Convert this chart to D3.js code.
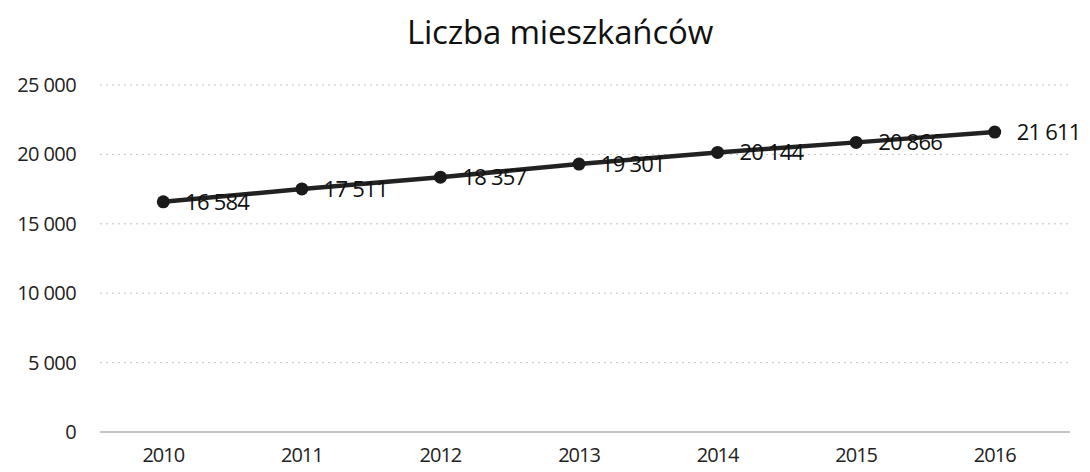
<!DOCTYPE html>
<html>
<head>
<meta charset="utf-8">
<script src="https://cdn.jsdelivr.net/npm/d3@7"></script>
<style>
  body { margin: 0; background: #fff; }
  text { font-family: "Open Sans", sans-serif; }
</style>
</head>
<body>
<div id="canvas"></div>
<script>
var years = ["2010", "2011", "2012", "2013", "2014", "2015", "2016"];
var population = [16584, 17511, 18357, 19301, 20144, 20866, 21611];
var yTicks = [0, 5000, 10000, 15000, 20000, 25000];
var title = "Liczba mieszkańców";

var width = 1090, height = 472;

var svg = d3.select("#canvas").append("svg")
    .attr("width", width)
    .attr("height", height);

var pl = d3.formatLocale({ decimal: ",", thousands: "\u00a0", grouping: [3], currency: ["", " zł"] });
var fmt = pl.format(",d");

var x = d3.scaleBand().domain(years).range([94, 1064]).padding(0);
var y = d3.scaleLinear().domain([0, 25000]).range([432, 85]);

// title
svg.append("text")
    .attr("x", 560)
    .attr("y", 44)
    .attr("text-anchor", "middle")
    .style("font-size", "33px")
    .style("fill", "#111")
    .attr("letter-spacing", "-0.2px")
    .text(title);

// gridlines
svg.append("g").selectAll("line").data(yTicks).enter().append("line")
    .attr("x1", 100)
    .attr("x2", 1070)
    .attr("y1", function (d) { return y(d) })
    .attr("y2", function (d) { return y(d) })
    .style("stroke", function (d) { return d === 0 ? "#888" : "#c4c4c4" })
    .style("stroke-dasharray", function (d) { return d === 0 ? null : "2,4" });

// y axis labels
var yAxis = d3.axisLeft(y).tickValues(yTicks).tickFormat(fmt).tickSize(0).tickPadding(0);
var gy = svg.append("g").attr("transform", "translate(76,0)").call(yAxis);
gy.select(".domain").remove();
gy.selectAll("text")
    .style("font-size", "20px")
    .style("font-family", "'Open Sans', sans-serif")
    .style("fill", "#222")
    .attr("letter-spacing", "-0.6px");

// x axis labels
var xAxis = d3.axisBottom(x).tickSize(0).tickPadding(0);
var gx = svg.append("g").attr("transform", "translate(0,448)").call(xAxis);
gx.select(".domain").remove();
gx.selectAll("text")
    .style("font-size", "20px")
    .style("font-family", "'Open Sans', sans-serif")
    .style("fill", "#222")
    .attr("letter-spacing", "-1px");

var pts = years.map(function (d, i) { return { year: d, value: population[i] } });

var line = d3.line()
    .x(function (d) { return x(d.year) + x.bandwidth() / 2 })
    .y(function (d) { return y(d.value) });

svg.append("path")
    .datum(pts)
    .attr("d", line)
    .style("fill", "none")
    .style("stroke", "#222")
    .style("stroke-width", 4.5);

svg.append("g").selectAll("circle").data(pts).enter().append("circle")
    .attr("cx", function (d) { return x(d.year) + x.bandwidth() / 2 })
    .attr("cy", function (d) { return y(d.value) })
    .attr("r", 6.5)
    .style("fill", "#1a1a1a");

svg.append("g").selectAll("text").data(pts).enter().append("text")
    .attr("x", function (d) { return x(d.year) + x.bandwidth() / 2 + 22 })
    .attr("y", function (d) { return y(d.value) + 8 })
    .style("font-size", "22px")
    .style("fill", "#111")
    .attr("letter-spacing", "-0.8px")
    .text(function (d) { return fmt(d.value) });
</script>
</body>
</html>
